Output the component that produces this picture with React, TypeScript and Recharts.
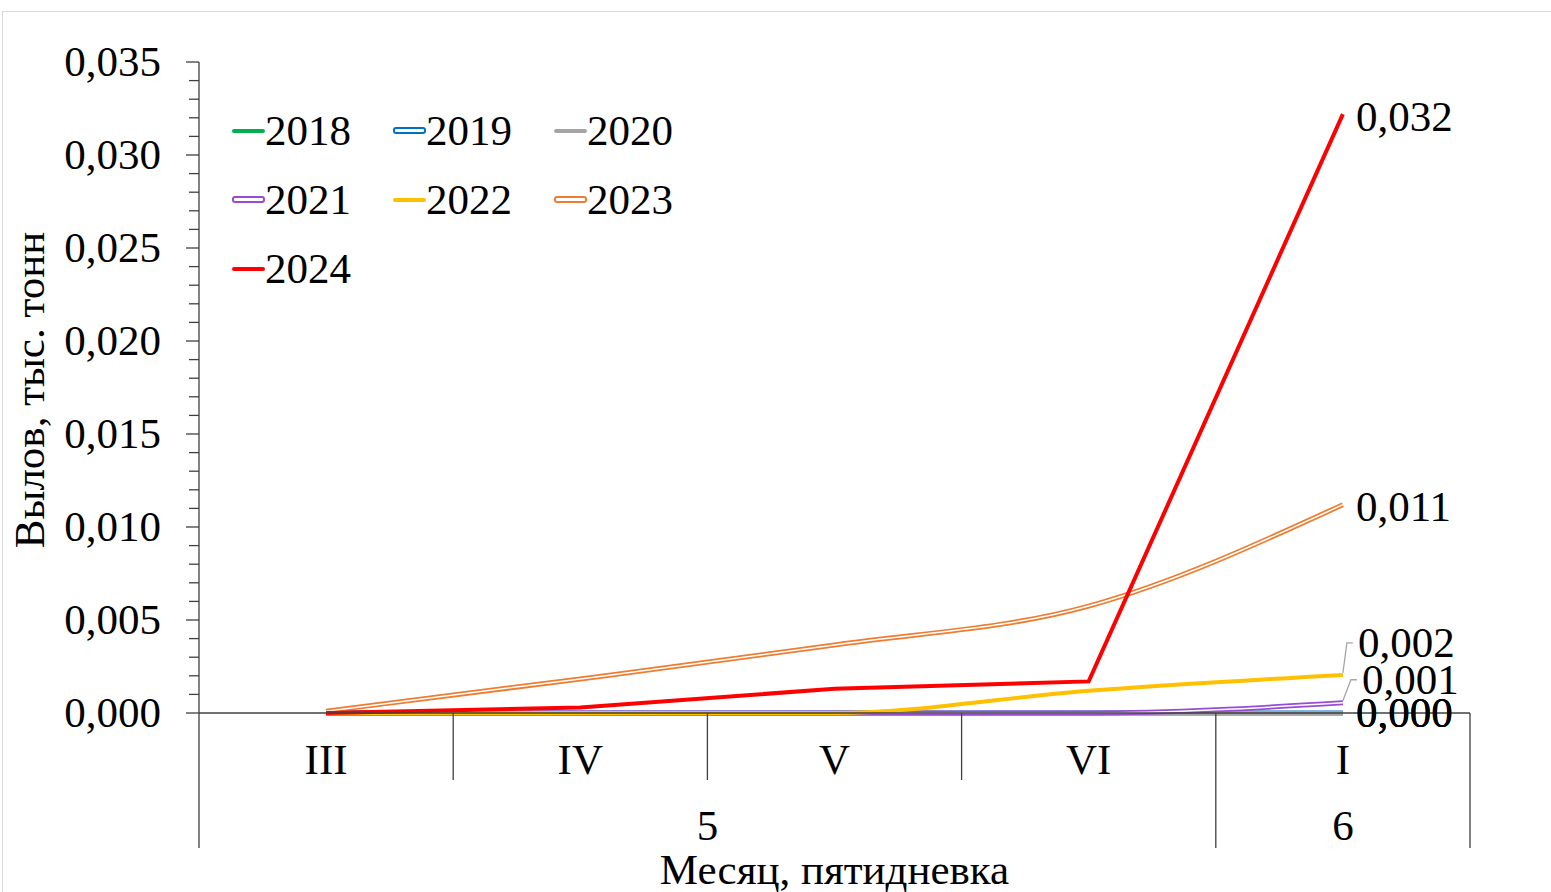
import { LineChart, Line, XAxis, YAxis, Legend, LabelList, Label } from 'recharts'

// categories: five-day period (inner level) and month (outer level)
const periods = ['III', 'IV', 'V', 'VI', 'I']
const months = ['5', '5', '5', '5', '6']

// catch, thousand tonnes
const y2018 = [0, 0, 0, 0, 0]
const y2019 = [0, 0, 0, 0, 0]
const y2020 = [0, 0, 0, 0, 0]
const y2021 = [0, 0, 0, 0, 0.00055]
const y2022 = [0, 0, 0, 0.0012, 0.00205]
const y2023 = [0.0001, 0.00183, 0.00366, 0.00575, 0.0112]
const y2024 = [0, 0.0003, 0.0013, 0.0017, 0.0322]

const majorTicks = [0, 0.005, 0.01, 0.015, 0.02, 0.025, 0.03, 0.035]
const minorStep = 0.001

const FONT = '"Liberation Serif", "Times New Roman", serif'
const FS = 43

const W = 1551
const H = 892
const X_AXIS_H = 30
const margin = { top: 62, right: 81, bottom: 179 - X_AXIS_H, left: 0 }
const Y_AXIS_W = 199
const plotW = W - Y_AXIS_W - margin.right - margin.left
const bandW = plotW / periods.length

const series = [
  { key: 'y2018', name: '2018', values: y2018, color: '#00B050', double: false, curve: 'linear' },
  { key: 'y2019', name: '2019', values: y2019, color: '#0070C0', double: true, curve: 'linear' },
  { key: 'y2020', name: '2020', values: y2020, color: '#A5A5A5', double: false, curve: 'linear' },
  { key: 'y2021', name: '2021', values: y2021, color: '#9A4BD3', double: true, curve: 'monotone' },
  { key: 'y2022', name: '2022', values: y2022, color: '#FFC000', double: false, curve: 'monotone' },
  { key: 'y2023', name: '2023', values: y2023, color: '#ED7D31', double: true, curve: 'monotone' },
  { key: 'y2024', name: '2024', values: y2024, color: '#FF0000', double: false, curve: 'linear' }
]

// where each end label sits relative to its point
const labelPos: Record<string, { dx: number; dy: number; leader?: boolean }> = {
  '2018': { dx: 13, dy: 0 },
  '2019': { dx: 13, dy: 0 },
  '2020': { dx: 13, dy: 0 },
  '2021': { dx: 19, dy: -23, leader: true },
  '2022': { dx: 15, dy: -32, leader: true },
  '2023': { dx: 13, dy: 2 },
  '2024': { dx: 13, dy: 3 }
}

const data = periods.map((p, i) => {
  const row: Record<string, any> = { period: p, month: months[i] }
  series.forEach(s => { row[s.key] = s.values[i] })
  return row
})

const yTicks = Array.from({ length: Math.round(0.035 / minorStep) + 1 }, (_, i) => +(i * minorStep).toFixed(3))

const fmt = (v: number) => v.toFixed(3).replace('.', ',')

function YTick(props: any) {
  const { x, y, payload } = props
  const v = payload.value
  const isMajor = majorTicks.some(t => Math.abs(t - v) < 1e-9)
  return (
    <g>
      <line x1={x - (isMajor ? 13 : 10)} x2={x} y1={y} y2={y} stroke="#404040" strokeWidth={1.3} />
      {isMajor && (
        <text x={x - 38} y={y + 14} textAnchor="end" fontFamily={FONT} fontSize={FS} fill="#000">
          {fmt(v)}
        </text>
      )}
    </g>
  )
}

function XTick(props: any) {
  const { x, y, payload } = props
  const i = periods.indexOf(payload.value)
  const groupStart = i === 0 || months[i] !== months[i - 1]
  const last = i === periods.length - 1
  let span = 1
  while (i + span < months.length && months[i + span] === months[i]) span++
  const left = x - bandW / 2
  return (
    <g>
      <text x={x} y={y + 61} textAnchor="middle" fontFamily={FONT} fontSize={FS} fill="#000">
        {payload.value}
      </text>
      <line x1={left} x2={left} y1={y} y2={groupStart ? y + 135 : y + 67} stroke="#404040" strokeWidth={1.3} />
      {last && <line x1={x + bandW / 2} x2={x + bandW / 2} y1={y} y2={y + 135} stroke="#404040" strokeWidth={1.3} />}
      {groupStart && (
        <text x={left + (span * bandW) / 2} y={y + 127} textAnchor="middle" fontFamily={FONT} fontSize={FS} fill="#000">
          {months[i]}
        </text>
      )}
    </g>
  )
}

function makeEndLabel(name: string) {
  const pos = labelPos[name]
  return (props: any) => {
    const { x, y, index, value } = props
    if (index !== periods.length - 1) return null
    const tx = x + pos.dx
    const ty = y + pos.dy
    return (
      <g>
        {pos.leader && (
          <polyline
            points={`${x},${y - 2} ${x + pos.dx - 11},${ty} ${x + pos.dx - 5},${ty}`}
            fill="none"
            stroke="#A6A6A6"
            strokeWidth={1.3}
          />
        )}
        <text x={tx} y={ty + 14} fontFamily={FONT} fontSize={FS} fill="#000">
          {fmt(Number(value))}
        </text>
      </g>
    )
  }
}

function LegendBox() {
  return (
    <div style={{ display: 'grid', gridTemplateColumns: '161px 161px 161px', fontFamily: FONT, fontSize: FS }}>
      {series.map(s => (
        <div key={s.key} style={{ display: 'flex', alignItems: 'center', height: 69, lineHeight: '69px' }}>
          {s.double ? (
            <div style={{ width: 33, height: 7, border: `2px solid ${s.color}`, borderRadius: 3, boxSizing: 'border-box', background: '#fff' }} />
          ) : (
            <div style={{ width: 33, height: 4, background: s.color, borderRadius: 2 }} />
          )}
          <span style={{ color: '#000' }}>{s.name}</span>
        </div>
      ))}
    </div>
  )
}

export default function App() {
  return (
    <div style={{ position: 'absolute', left: 0, top: 0, width: W, height: H, overflow: 'hidden', background: '#fff' }}>
      <div style={{ position: 'absolute', left: 2, top: 11, width: W, height: H, border: '1px solid #D9D9D9' }} />
      <LineChart width={W} height={H} data={data} margin={margin}>
        <XAxis
          dataKey="period"
          height={X_AXIS_H}
          interval={0}
          padding={{ left: bandW / 2, right: bandW / 2 }}
          tickLine={false}
          tickSize={0}
          tickMargin={0}
          tick={<XTick />}
          axisLine={{ stroke: '#404040', strokeWidth: 1.3 }}
        >
          <Label
            content={() => (
              <text x={Y_AXIS_W + plotW / 2} y={884} textAnchor="middle" fontFamily={FONT} fontSize={FS} fill="#000">
                Месяц, пятидневка
              </text>
            )}
          />
        </XAxis>
        <YAxis
          width={Y_AXIS_W}
          domain={[0, 0.035]}
          ticks={yTicks}
          interval={0}
          tickLine={false}
          tickSize={0}
          tickMargin={0}
          tick={<YTick />}
          axisLine={{ stroke: '#404040', strokeWidth: 1.3 }}
        >
          <Label
            content={() => (
              <text
                x={0}
                y={0}
                transform="translate(44 390) rotate(-90)"
                textAnchor="middle"
                fontFamily={FONT}
                fontSize={FS}
                fill="#000"
              >
                Вылов, тыс. тонн
              </text>
            )}
          />
        </YAxis>
        <Legend
          layout="vertical"
          align="center"
          verticalAlign="middle"
          content={<LegendBox />}
          wrapperStyle={{ left: 232, top: 96, width: 490 }}
        />

        {series.map(s => [
          <Line
            key={s.key}
            dataKey={s.key}
            name={s.name}
            type={s.curve as any}
            stroke={s.color}
            strokeWidth={s.double ? 5 : 4}
            dot={false}
            activeDot={false}
            isAnimationActive={false}
          >
            {!s.double && <LabelList dataKey={s.key} content={makeEndLabel(s.name)} />}
          </Line>,
          s.double && (
            <Line
              key={s.key + '-inner'}
              dataKey={s.key}
              type={s.curve as any}
              stroke="#fff"
              strokeWidth={1.5}
              dot={false}
              activeDot={false}
              legendType="none"
              isAnimationActive={false}
            >
              <LabelList dataKey={s.key} content={makeEndLabel(s.name)} />
            </Line>
          )
        ])}
      </LineChart>
    </div>
  )
}
